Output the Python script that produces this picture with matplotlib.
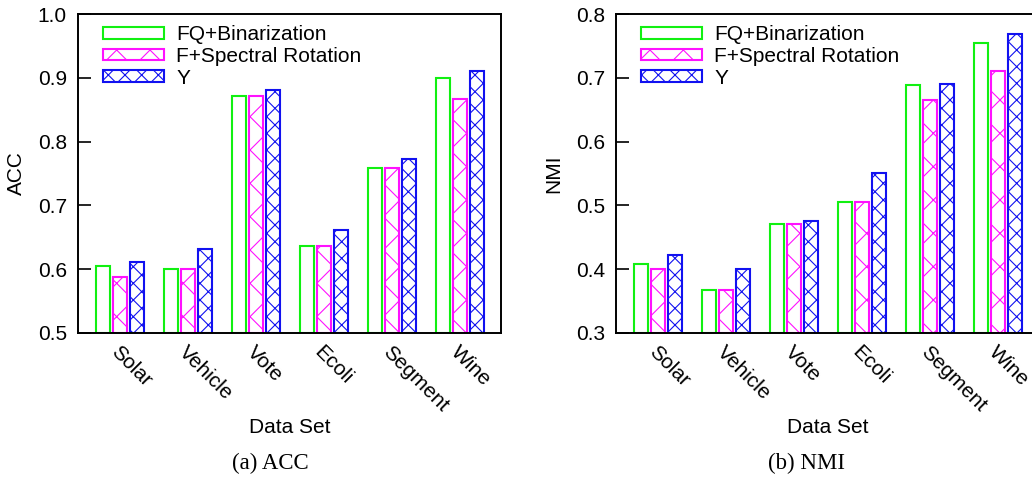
"""Grouped hatched bars: ACC and NMI per data set for three methods."""

import matplotlib.pyplot as plt
import numpy as np

datasets = ["Solar", "Vehicle", "Vote", "Ecoli", "Segment", "Wine"]
methods = ["FQ+Binarization", "F+Spectral Rotation", "Y"]

acc_fq = [0.605, 0.601, 0.872, 0.637, 0.758, 0.899]
acc_sr = [0.587, 0.601, 0.872, 0.637, 0.758, 0.866]
acc_y = [0.611, 0.632, 0.881, 0.661, 0.772, 0.911]

nmi_fq = [0.408, 0.367, 0.471, 0.505, 0.688, 0.754]
nmi_sr = [0.401, 0.367, 0.471, 0.505, 0.665, 0.711]
nmi_y = [0.422, 0.400, 0.476, 0.550, 0.690, 0.768]

colors = ["#11f011", "#ff11ff", "#1111f0"]
hatches = ["", "x", "xx"]

plt.rcParams["font.family"] = ["Liberation Sans", "DejaVu Sans"]
plt.rcParams["hatch.linewidth"] = 0.8

W, H = 1032, 478
fig = plt.figure(figsize=(W / 100, H / 100), dpi=100)


def panel(rect, series, ylim, yticks, ylabel, caption, cap_x):
    ax = fig.add_axes(rect)
    x = np.arange(len(datasets))
    for k, (vals, c, h) in enumerate(zip(series, colors, hatches)):
        ax.bar(x + (k - 1) * 0.25, np.array(vals) - ylim[0], width=0.2,
               bottom=ylim[0], facecolor="white", edgecolor=c, hatch=h,
               linewidth=1.5, label=methods[k])
    ax.set_xlim(-0.62, 5.6)
    ax.set_ylim(*ylim)
    ax.set_yticks(yticks)
    ax.set_yticklabels([f"{t:.1f}" for t in yticks], fontsize=15)
    ax.tick_params(axis="y", direction="in", length=9, width=1.2, pad=8)
    ax.set_xticks(x)
    ax.set_xticklabels(datasets, rotation=-45, ha="left", va="top",
                       rotation_mode="anchor", fontsize=15)
    ax.tick_params(axis="x", length=0, pad=7)
    for s in ax.spines.values():
        s.set_linewidth(1.4)
    ax.set_ylabel(ylabel, fontsize=15)
    ax.yaxis.set_label_coords(-0.124, 0.5)
    ax.set_xlabel("Data Set", fontsize=15)
    ax.xaxis.set_label_coords(0.5, -0.265)
    ax.legend(loc="upper left", bbox_to_anchor=(0.06, 0.965), frameon=False,
              fontsize=15, handlelength=2.9, handleheight=0.5,
              handletextpad=0.6, labelspacing=0.13, borderpad=0,
              borderaxespad=0)
    fig.text(cap_x / W, 1 - 463 / H, caption, ha="center", va="center",
             fontsize=16.5, family=["Liberation Serif", "DejaVu Serif"])
    return ax


bottom = 1 - 333 / H
height = 319 / H
panel([78 / W, bottom, 423 / W, height], [acc_fq, acc_sr, acc_y],
      (0.5, 1.0), [0.5, 0.6, 0.7, 0.8, 0.9, 1.0], "ACC", "(a) ACC", 270)
panel([616 / W, bottom, 423 / W, height], [nmi_fq, nmi_sr, nmi_y],
      (0.3, 0.8), [0.3, 0.4, 0.5, 0.6, 0.7, 0.8], "NMI", "(b) NMI", 807)

fig.savefig("out.png", dpi=100)
